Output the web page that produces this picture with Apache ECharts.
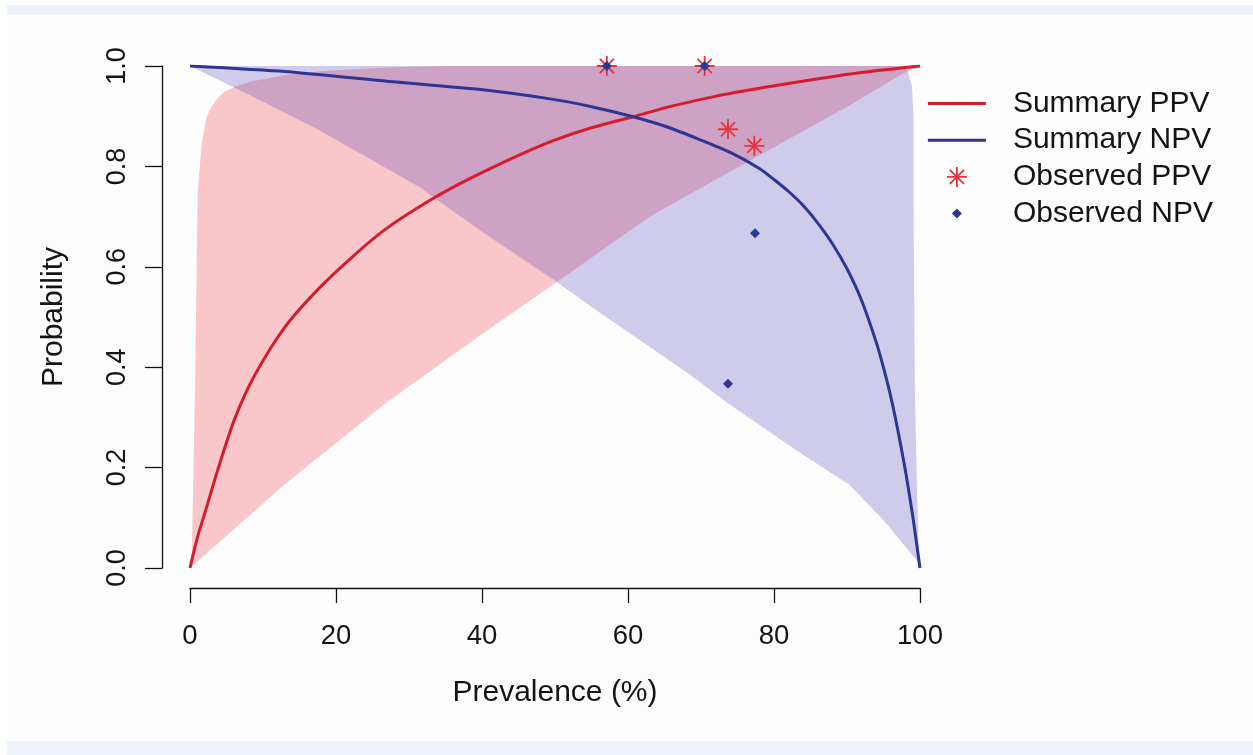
<!DOCTYPE html>
<html>
<head>
<meta charset="utf-8">
<script src="https://cdn.jsdelivr.net/npm/echarts@6/dist/echarts.min.js"></script>
<style>
  html, body { margin: 0; padding: 0; background: #ffffff; }
  #wrap { position: relative; width: 1253px; height: 755px; overflow: hidden; }
  #card { position: absolute; left: 7px; top: 15px; width: 1246px; height: 726px; background: #fdfdfd; }
  #bandTop { position: absolute; left: 7px; top: 5px; width: 1246px; height: 10px; background: #edf1fa; }
  #bandBottom { position: absolute; left: 7px; top: 741px; width: 1246px; height: 14px; background: #edf1fa; }
  #chart { position: absolute; left: 0; top: 0; width: 1253px; height: 755px; }
</style>
</head>
<body>
<div id="wrap">
  <div id="bandTop"></div>
  <div id="card"></div>
  <div id="bandBottom"></div>
  <div id="chart"></div>
</div>
<script>
// ---- data ----
const xTickValues = [0, 20, 40, 60, 80, 100];
const xTickLabels = ['0', '20', '40', '60', '80', '100'];
const yTickValues = [0, 0.2, 0.4, 0.6, 0.8, 1.0];
const yTickLabels = ['0.0', '0.2', '0.4', '0.6', '0.8', '1.0'];

const legendNames = ['Summary PPV', 'Summary NPV', 'Observed PPV', 'Observed NPV'];

// summary PPV curve [prevalence %, probability]
const summaryPPV = [
  [0, 0], [1, 0.06], [2.05, 0.11], [3.9, 0.20], [6.2, 0.30], [8.9, 0.385],
  [13, 0.48], [17.6, 0.556], [22.1, 0.618], [26.7, 0.674], [32.6, 0.73],
  [38.1, 0.774], [45, 0.822], [49.5, 0.85], [55, 0.877], [60.7, 0.899],
  [66, 0.92], [72.1, 0.94], [79, 0.958], [85.8, 0.974], [92, 0.987], [100, 1.0]
];
// summary NPV curve
const summaryNPV = [
  [0, 1.0], [13, 0.989], [26.7, 0.97], [40.4, 0.952], [49.5, 0.934],
  [55, 0.919], [60.7, 0.899], [65.5, 0.878], [69.9, 0.853], [74, 0.828],
  [78, 0.796], [80, 0.774], [82, 0.75], [84, 0.722], [86, 0.687],
  [88, 0.646], [90, 0.596], [92, 0.533], [94, 0.45], [95, 0.399],
  [96, 0.341], [97, 0.272], [98, 0.194], [99, 0.104], [100, 0.0]
];
// PPV band: upper edge (left to right) then lower edge (right to left)
const ppvBandUpper = [
  [0, 0], [0.23, 0.016], [0.68, 0.348], [1.05, 0.746], [1.6, 0.846],
  [2.28, 0.899], [2.9, 0.918], [3.9, 0.938], [4.9, 0.95], [6.2, 0.959],
  [8.4, 0.969], [13, 0.982], [17.5, 0.989], [26.7, 0.997], [35, 1.0], [100, 1.0]
];
const ppvBandLower = [
  [100, 1.0], [97.3, 0.982], [90.4, 0.922], [76.7, 0.812], [63, 0.70],
  [50, 0.567], [40.4, 0.47], [26.7, 0.327], [13, 0.167], [0, 0]
];
// NPV band: upper edge (left to right) then lower edge (right to left)
const npvBandUpper = [
  [0, 1.0], [97.3, 1.0], [98.3, 0.99], [98.9, 0.96], [99.1, 0.9],
  [99.1, 0.75], [99.3, 0.35], [99.6, 0.15], [99.8, 0.05], [100, 0]
];
const npvBandLower = [
  [100, 0], [99.5, 0.016], [95, 0.095], [90.4, 0.165], [83, 0.235],
  [76.7, 0.298], [73.5, 0.33], [68.5, 0.385], [63, 0.44], [56, 0.51],
  [50, 0.572], [40, 0.67], [31.3, 0.76], [17.6, 0.873], [6.2, 0.956], [0, 1.0]
];
// observed values
const observedPPV = [[57.1, 1.0], [70.5, 1.0], [73.7, 0.874], [77.3, 0.841]];
const observedNPV = [[57.1, 1.0], [70.5, 1.0], [77.4, 0.667], [73.7, 0.367]];

// ---- styling ----
const FONT = '"Liberation Sans", Arial, Helvetica, sans-serif';
const RED = '#d81b2c';
const BLUE = '#2e3592';
const STAR_RED = '#e8323a';
const PINK_FILL = 'rgba(238, 40, 52, 0.25)';
const BLUE_FILL = 'rgba(55, 40, 178, 0.23)';
const asteriskPath = 'path://M0,-10L0,10M-10,0L10,0M-7.07,-7.07L7.07,7.07M-7.07,7.07L7.07,-7.07';
// legend icons: a leading pair of moves sets a 58x20 box so every icon sits centred in it
const legendLineIcon = 'path://M-29,-10M29,10M-29,-1.5L29,-1.5L29,1.5L-29,1.5Z';
const legendStarIcon = 'path://M-29,-10M29,10M0,-10L0,10M-10,0L10,0M-7.07,-7.07L7.07,7.07M-7.07,7.07L7.07,-7.07';
const legendDiamondIcon = 'path://M-29,-10M29,10M0,-5L5,0L0,5L-5,0Z';

function bandSeries(name, upper, lower, fill, z) {
  const pts = upper.concat(lower);
  return {
    type: 'custom', name: name, coordinateSystem: 'cartesian2d', silent: true, z: z,
    data: [[0, 0]],
    renderItem: function (params, api) {
      return {
        type: 'polygon',
        shape: { points: pts.map(function (p) { return api.coord(p); }), smooth: 0 },
        style: { fill: fill, stroke: null }
      };
    }
  };
}

const chart = echarts.init(document.getElementById('chart'), null, { renderer: 'canvas' });

const option = {
  backgroundColor: 'transparent',
  animation: false,
  grid: { left: 190, right: 333, top: 66, bottom: 187, containLabel: false },
  legend: {
    orient: 'vertical', left: 922, top: 83.5, itemWidth: 58, itemHeight: 20, itemGap: 6.7,
    selectedMode: false, symbolKeepAspect: true,
    textStyle: { fontFamily: FONT, fontSize: 30, color: '#141414', padding: [0, 0, 0, 22], lineHeight: 30 },
    data: [
      { name: legendNames[0], icon: legendLineIcon, itemStyle: { color: RED, borderWidth: 0 } },
      { name: legendNames[1], icon: legendLineIcon, itemStyle: { color: BLUE, borderWidth: 0 } },
      { name: legendNames[2], icon: legendStarIcon,
        itemStyle: { color: 'rgba(0,0,0,0)', borderColor: STAR_RED, borderWidth: 1.8 } },
      { name: legendNames[3], icon: legendDiamondIcon, itemStyle: { color: BLUE, borderWidth: 0 } }
    ]
  },
  xAxis: {
    type: 'value', min: 0, max: 100, interval: 20, offset: 20,
    name: 'Prevalence (%)', nameLocation: 'middle', nameGap: 90,
    nameTextStyle: { fontFamily: FONT, fontSize: 30, color: '#141414' },
    axisLine: { show: true, onZero: false, lineStyle: { color: '#111', width: 1.3 } },
    axisTick: { show: true, length: 15, lineStyle: { color: '#111', width: 1.3 } },
    axisLabel: {
      margin: 34, fontFamily: FONT, fontSize: 27.5, color: '#141414',
      formatter: function (v) { const i = xTickValues.indexOf(v); return i >= 0 ? xTickLabels[i] : ''; }
    },
    splitLine: { show: false }
  },
  yAxis: {
    type: 'value', min: 0, max: 1, interval: 0.2, offset: 28,
    name: 'Probability', nameLocation: 'middle', nameGap: 93,
    nameTextStyle: { fontFamily: FONT, fontSize: 30, color: '#141414' },
    axisLine: { show: true, onZero: false, lineStyle: { color: '#111', width: 1.3 } },
    axisTick: { show: true, length: 17, lineStyle: { color: '#111', width: 1.3 } },
    axisLabel: {
      rotate: 90, margin: 31, fontFamily: FONT, fontSize: 27, color: '#141414',
      formatter: function (v) {
        for (let i = 0; i < yTickValues.length; i++) { if (Math.abs(yTickValues[i] - v) < 1e-9) return yTickLabels[i]; }
        return '';
      }
    },
    splitLine: { show: false }
  },
  series: [
    bandSeries('PPV band', ppvBandUpper, ppvBandLower, PINK_FILL, 1),
    bandSeries('NPV band', npvBandUpper, npvBandLower, BLUE_FILL, 2),
    {
      type: 'line', name: legendNames[0], data: summaryPPV, symbol: 'none', showSymbol: false,
      smooth: 0.3, z: 3,
      lineStyle: { color: RED, width: 3 }, itemStyle: { color: RED }
    },
    {
      type: 'line', name: legendNames[1], data: summaryNPV, symbol: 'none', showSymbol: false,
      smooth: 0.2, z: 3,
      lineStyle: { color: BLUE, width: 3 }, itemStyle: { color: BLUE }
    },
    {
      type: 'scatter', name: legendNames[2], data: observedPPV, symbol: asteriskPath, symbolSize: 20, z: 4,
      itemStyle: { color: 'rgba(0,0,0,0)', borderColor: STAR_RED, borderWidth: 1.8, opacity: 1 }
    },
    {
      type: 'scatter', name: legendNames[3], data: observedNPV, symbol: 'diamond', symbolSize: 10, z: 5,
      itemStyle: { color: BLUE, opacity: 1 }
    }
  ]
};
chart.setOption(option);
</script>
</body>
</html>
